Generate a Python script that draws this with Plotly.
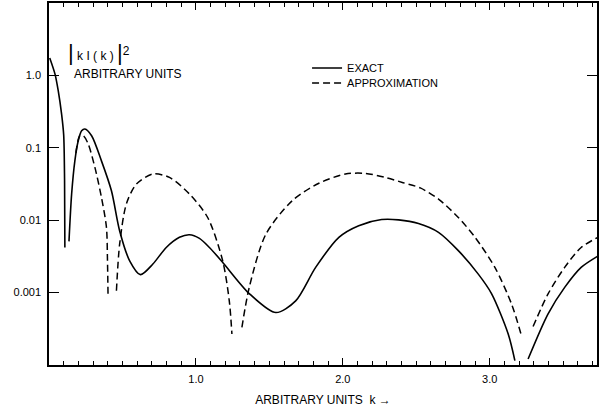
import plotly.graph_objects as go

# ---- data ----
# EXACT curve: k values and |kI(k)|^2 values, None separates branches
exact_k = [0.005, 0.041, 0.063, 0.086, 0.100, 0.106, 0.108, None,
           0.136, 0.154, 0.176, 0.199, 0.222, 0.244, 0.290, 0.357, 0.425, 0.481, 0.549,
           0.622, 0.707, 0.798, 0.888, 0.956, 1.024, 1.092, 1.180, 1.363, 1.544, 1.679,
           1.815, 1.973, 2.108, 2.264, 2.380, 2.515, 2.651, 2.786, 2.922, 3.012, 3.125, 3.171, None,
           3.261, 3.397, 3.510, 3.622, 3.736]
exact_val = [1.74, 1.04, 0.61, 0.29, 0.15, 0.035, 0.0042, None,
             0.0051, 0.023, 0.066, 0.125, 0.172, 0.182, 0.147, 0.066, 0.0255, 0.0071, 0.00275,
             0.00177, 0.00248, 0.0042, 0.0058, 0.0063, 0.0056, 0.0042, 0.00265, 0.00097, 0.00053, 0.00077,
             0.00223, 0.0058, 0.0084, 0.0102, 0.0101, 0.0090, 0.0068, 0.0038, 0.0018, 0.00097, 0.00027, 0.000115, None,
             0.000121, 0.00051, 0.00118, 0.00223, 0.0032]

# APPROXIMATION curve
approx_k = [0.183, 0.210, 0.233, 0.266, 0.312, 0.357, 0.391, 0.398, 0.402, None,
            0.459, 0.481, 0.527, 0.595, 0.707, 0.820, 0.956, 1.080, 1.182, 1.227, 1.245, None,
            1.313, 1.363, 1.476, 1.656, 1.837, 2.018, 2.154, 2.289, 2.410, 2.527, 2.651, 2.786,
            2.900, 3.035, 3.148, 3.216, None,
            3.295, 3.397, 3.510, 3.622, 3.736]
approx_val = [0.085, 0.147, 0.147, 0.114, 0.054, 0.0207, 0.0080, 0.0028, 0.00086, None,
              0.00106, 0.0047, 0.0169, 0.0316, 0.0435, 0.039, 0.023, 0.0109, 0.00276, 0.00077, 0.000268, None,
              0.00033, 0.00118, 0.0064, 0.0186, 0.0324, 0.0435, 0.0443, 0.039, 0.033, 0.0279, 0.0196, 0.0109,
              0.0058, 0.00223, 0.0007, 0.000254, None,
              0.00034, 0.00096, 0.00223, 0.0042, 0.0058]

x_tickvals = [1, 2, 3]
x_ticktext = ["1.0", "2.0", "3.0"]
y_tickvals = [1, 0.1, 0.01, 0.001]
y_ticktext = ["1.0", "0.1", "0.01", "0.001"]

FONT = "Liberation Sans, Arial, sans-serif"

fig = go.Figure()
fig.add_trace(go.Scatter(x=exact_k, y=exact_val, mode="lines", name="EXACT", legend="legend",
                         showlegend=True,
                         line=dict(color="black", width=1.6, shape="spline", smoothing=0.8),
                         connectgaps=False))
fig.add_trace(go.Scatter(x=approx_k, y=approx_val, mode="lines", name="APPROXIMATION", legend="legend2",
                         showlegend=True,
                         line=dict(color="black", width=1.5, dash="7px,4px", shape="spline", smoothing=0.8),
                         connectgaps=False))

leg_common = dict(xanchor="left", yanchor="middle", bgcolor="rgba(0,0,0,0)",
                  font=dict(size=11), borderwidth=0, visible=True)

fig.update_layout(
    width=600, height=412,
    showlegend=True,
    margin=dict(l=49, r=1, t=3, b=47),
    paper_bgcolor="white", plot_bgcolor="white",
    font=dict(family=FONT, color="black", size=11),
    legend=dict(x=(308 - 49) / 550, y=1 - (68 - 3) / 362, **leg_common),
    legend2=dict(x=(308 - 49) / 550, y=1 - (83 - 3) / 362, **leg_common),
    xaxis=dict(range=[0, 3.73], showgrid=False, zeroline=False,
               showline=True, linecolor="black", linewidth=1.5, mirror="allticks",
               tickmode="array", tickvals=x_tickvals, ticktext=x_ticktext,
               ticks="inside", ticklen=7, tickcolor="black", tickwidth=1.2,
               ticklabelstandoff=3,
               minor=dict(dtick=0.1, ticks="inside", ticklen=4, tickcolor="black", tickwidth=1),
               title=dict(text="ARBITRARY UNITS  k \u2192", font=dict(size=12), standoff=12),
               tickfont=dict(size=11)),
    yaxis=dict(type="log", range=[-4, 1], showgrid=False, zeroline=False,
               showline=True, linecolor="black", linewidth=1.5, mirror="ticks",
               tickmode="array", tickvals=y_tickvals, ticktext=y_ticktext,
               ticks="inside", ticklen=10, tickcolor="black", tickwidth=1.2,
               ticklabelstandoff=4, tickfont=dict(size=11)),
    annotations=[
        dict(xref="paper", yref="paper", x=(66 - 49) / 550, y=1 - (52 - 3) / 362,
             xanchor="left", yanchor="middle", showarrow=False,
             text="<span style='font-size:22px'>|</span> k I ( k ) <span style='font-size:22px'>|</span>"
                  "<sup><span style='font-size:12px'>2</span></sup>",
             font=dict(size=12)),
        dict(xref="paper", yref="paper", x=(72 - 49) / 550, y=1 - (74 - 3) / 362,
             xanchor="left", yanchor="middle", showarrow=False,
             text="ARBITRARY UNITS", font=dict(size=12)),
    ],
)

fig.write_html("out.html", config={"displayModeBar": False},
               post_script="document.body.style.margin='0px';")
